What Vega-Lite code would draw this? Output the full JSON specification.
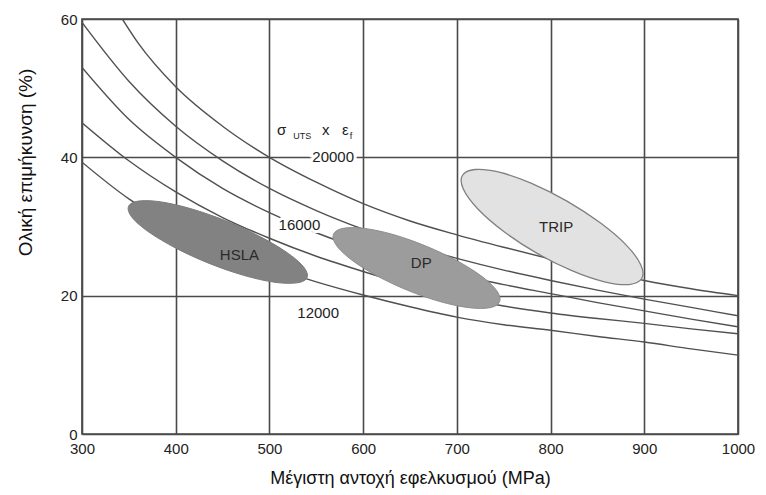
{
  "$schema": "https://vega.github.io/schema/vega-lite/v6.json",
  "width": 656,
  "height": 415,
  "autosize": {"type": "none"},
  "padding": {"left": 82, "top": 19, "right": 28, "bottom": 61},
  "background": "white",
  "config": {
    "view": {"stroke": "#4a4a4a", "strokeWidth": 1.7},
    "font": "Liberation Sans",
    "axis": {
      "grid": true, "gridColor": "#4a4a4a", "gridWidth": 1.6, "domain": false, "ticks": false,
      "labelFont": "Liberation Sans", "labelFontSize": 15, "labelColor": "#222",
      "titleFont": "Liberation Sans", "titleFontSize": 19, "titleFontWeight": "normal", "titleColor": "#111",
      "labelFlush": false, "labelOverlap": false, "labelBound": false
    }
  },
  "datasets": {
    "curves": [
      {"c": "B", "x": 343, "y": 60}, {"c": "B", "x": 360, "y": 56.5}, {"c": "B", "x": 400, "y": 50.2}, {"c": "B", "x": 450, "y": 44.5}, {"c": "B", "x": 500, "y": 40}, {"c": "B", "x": 550, "y": 36.4}, {"c": "B", "x": 600, "y": 33.3}, {"c": "B", "x": 650, "y": 30.8}, {"c": "B", "x": 700, "y": 28.8}, {"c": "B", "x": 750, "y": 27}, {"c": "B", "x": 800, "y": 25.3}, {"c": "B", "x": 850, "y": 23.7}, {"c": "B", "x": 900, "y": 22.2}, {"c": "B", "x": 950, "y": 21}, {"c": "B", "x": 1000, "y": 20},
      {"c": "A", "x": 300, "y": 59.5}, {"c": "A", "x": 350, "y": 51}, {"c": "A", "x": 400, "y": 44.5}, {"c": "A", "x": 450, "y": 39.5}, {"c": "A", "x": 500, "y": 35.5}, {"c": "A", "x": 550, "y": 32.3}, {"c": "A", "x": 600, "y": 29.6}, {"c": "A", "x": 650, "y": 27.3}, {"c": "A", "x": 700, "y": 25.4}, {"c": "A", "x": 750, "y": 23.7}, {"c": "A", "x": 800, "y": 22.2}, {"c": "A", "x": 850, "y": 20.8}, {"c": "A", "x": 900, "y": 19.5}, {"c": "A", "x": 950, "y": 18.3}, {"c": "A", "x": 1000, "y": 17.1},
      {"c": "C", "x": 300, "y": 53}, {"c": "C", "x": 350, "y": 45.5}, {"c": "C", "x": 400, "y": 40}, {"c": "C", "x": 450, "y": 35.5}, {"c": "C", "x": 500, "y": 32}, {"c": "C", "x": 550, "y": 29.1}, {"c": "C", "x": 600, "y": 26.7}, {"c": "C", "x": 650, "y": 24.7}, {"c": "C", "x": 700, "y": 23.1}, {"c": "C", "x": 750, "y": 21.6}, {"c": "C", "x": 800, "y": 20.3}, {"c": "C", "x": 850, "y": 19}, {"c": "C", "x": 900, "y": 17.8}, {"c": "C", "x": 950, "y": 16.6}, {"c": "C", "x": 1000, "y": 15.5},
      {"c": "D", "x": 300, "y": 45}, {"c": "D", "x": 350, "y": 39.5}, {"c": "D", "x": 400, "y": 35}, {"c": "D", "x": 450, "y": 31.3}, {"c": "D", "x": 500, "y": 28.3}, {"c": "D", "x": 550, "y": 25.7}, {"c": "D", "x": 600, "y": 23.5}, {"c": "D", "x": 650, "y": 21.5}, {"c": "D", "x": 700, "y": 19.8}, {"c": "D", "x": 750, "y": 18.5}, {"c": "D", "x": 800, "y": 17.5}, {"c": "D", "x": 850, "y": 16.7}, {"c": "D", "x": 900, "y": 16}, {"c": "D", "x": 950, "y": 15.2}, {"c": "D", "x": 1000, "y": 14.5},
      {"c": "E", "x": 300, "y": 39.3}, {"c": "E", "x": 350, "y": 34}, {"c": "E", "x": 400, "y": 30}, {"c": "E", "x": 450, "y": 26.8}, {"c": "E", "x": 500, "y": 24.2}, {"c": "E", "x": 550, "y": 22}, {"c": "E", "x": 600, "y": 20.1}, {"c": "E", "x": 650, "y": 18.4}, {"c": "E", "x": 700, "y": 16.9}, {"c": "E", "x": 750, "y": 15.8}, {"c": "E", "x": 800, "y": 15}, {"c": "E", "x": 850, "y": 14.1}, {"c": "E", "x": 900, "y": 13.3}, {"c": "E", "x": 950, "y": 12.3}, {"c": "E", "x": 1000, "y": 11.4}
    ],
    "regions": [
      {"r": "HSLA", "i": 0, "x": 540.2, "y": 22.64}, {"r": "HSLA", "i": 1, "x": 529.4, "y": 21.85}, {"r": "HSLA", "i": 2, "x": 505.1, "y": 21.95}, {"r": "HSLA", "i": 3, "x": 472.5, "y": 22.94}, {"r": "HSLA", "i": 4, "x": 435.8, "y": 24.66}, {"r": "HSLA", "i": 5, "x": 400.3, "y": 26.86}, {"r": "HSLA", "i": 6, "x": 371.4, "y": 29.19}, {"r": "HSLA", "i": 7, "x": 353.5, "y": 31.3}, {"r": "HSLA", "i": 8, "x": 349.6, "y": 32.88}, {"r": "HSLA", "i": 9, "x": 360.1, "y": 33.67}, {"r": "HSLA", "i": 10, "x": 383.6, "y": 33.57}, {"r": "HSLA", "i": 11, "x": 416.2, "y": 32.57}, {"r": "HSLA", "i": 12, "x": 452.9, "y": 30.85}, {"r": "HSLA", "i": 13, "x": 488.4, "y": 28.65}, {"r": "HSLA", "i": 14, "x": 517.7, "y": 26.33}, {"r": "HSLA", "i": 15, "x": 536.1, "y": 24.22},
      {"r": "DP", "i": 0, "x": 745.6, "y": 19.13}, {"r": "DP", "i": 1, "x": 735.2, "y": 18.26}, {"r": "DP", "i": 2, "x": 712.6, "y": 18.27}, {"r": "DP", "i": 3, "x": 681.7, "y": 19.16}, {"r": "DP", "i": 4, "x": 647.4, "y": 20.78}, {"r": "DP", "i": 5, "x": 614.5, "y": 22.89}, {"r": "DP", "i": 6, "x": 587.7, "y": 25.17}, {"r": "DP", "i": 7, "x": 571.5, "y": 27.27}, {"r": "DP", "i": 8, "x": 568.3, "y": 28.87}, {"r": "DP", "i": 9, "x": 578.8, "y": 29.74}, {"r": "DP", "i": 10, "x": 601.5, "y": 29.72}, {"r": "DP", "i": 11, "x": 632.0, "y": 28.84}, {"r": "DP", "i": 12, "x": 666.3, "y": 27.21}, {"r": "DP", "i": 13, "x": 699.3, "y": 25.11}, {"r": "DP", "i": 14, "x": 726.2, "y": 22.83}, {"r": "DP", "i": 15, "x": 742.5, "y": 20.73},
      {"r": "TRIP", "i": 0, "x": 897.3, "y": 22.48}, {"r": "TRIP", "i": 1, "x": 883.7, "y": 21.61}, {"r": "TRIP", "i": 2, "x": 857.5, "y": 22.0}, {"r": "TRIP", "i": 3, "x": 822.7, "y": 23.61}, {"r": "TRIP", "i": 4, "x": 784.8, "y": 26.18}, {"r": "TRIP", "i": 5, "x": 749.7, "y": 29.32}, {"r": "TRIP", "i": 6, "x": 722.4, "y": 32.54}, {"r": "TRIP", "i": 7, "x": 707.0, "y": 35.38}, {"r": "TRIP", "i": 8, "x": 705.9, "y": 37.37}, {"r": "TRIP", "i": 9, "x": 719.4, "y": 38.24}, {"r": "TRIP", "i": 10, "x": 745.3, "y": 37.85}, {"r": "TRIP", "i": 11, "x": 779.7, "y": 36.24}, {"r": "TRIP", "i": 12, "x": 817.5, "y": 33.67}, {"r": "TRIP", "i": 13, "x": 853.0, "y": 30.53}, {"r": "TRIP", "i": 14, "x": 880.8, "y": 27.31}, {"r": "TRIP", "i": 15, "x": 896.2, "y": 24.48}
    ],
    "values": [
      {"t": "20000", "x": 568, "y": 40},
      {"t": "16000", "x": 532, "y": 30.2},
      {"t": "12000", "x": 552, "y": 17.5}
    ],
    "names": [
      {"t": "HSLA", "x": 468, "y": 25.9},
      {"t": "DP", "x": 662, "y": 24.7},
      {"t": "TRIP", "x": 806, "y": 29.9}
    ],
    "symMain": [
      {"t": "σ", "x": 513, "y": 43.9},
      {"t": "x", "x": 560, "y": 43.9},
      {"t": "ε", "x": 581, "y": 43.9}
    ],
    "symSub": [
      {"t": "UTS", "x": 535, "y": 43.1},
      {"t": "f", "x": 587, "y": 43.1}
    ]
  },
  "encoding": {
    "x": {"field": "x", "type": "quantitative", "scale": {"domain": [300, 1000], "nice": false},
      "axis": {"values": [300, 400, 500, 600, 700, 800, 900, 1000], "format": "d", "labelPadding": 7, "title": "Μέγιστη αντοχή εφελκυσμού (MPa)", "titlePadding": 13, "titleFontSize": 18}},
    "y": {"field": "y", "type": "quantitative", "scale": {"domain": [0, 60], "nice": false},
      "axis": {"values": [0, 20, 40, 60], "labelPadding": 5, "title": "Ολική επιμήκυνση (%)", "titlePadding": 25, "titleY": 143}}
  },
  "layer": [
    {"data": {"name": "curves"}, "mark": {"type": "line", "stroke": "#505050", "strokeWidth": 1.4, "interpolate": "monotone", "clip": true},
      "encoding": {"detail": {"field": "c"}}},
    {"data": {"name": "regions"}, "transform": [{"filter": "datum.r === 'HSLA'"}],
      "mark": {"type": "line", "interpolate": "cardinal-closed", "fill": "#828282", "stroke": "#7a7a7a", "strokeWidth": 1},
      "encoding": {"order": {"field": "i"}}},
    {"data": {"name": "regions"}, "transform": [{"filter": "datum.r === 'DP'"}],
      "mark": {"type": "line", "interpolate": "cardinal-closed", "fill": "#9c9c9c", "stroke": "#8e8e8e", "strokeWidth": 1},
      "encoding": {"order": {"field": "i"}}},
    {"data": {"name": "regions"}, "transform": [{"filter": "datum.r === 'TRIP'"}],
      "mark": {"type": "line", "interpolate": "cardinal-closed", "fill": "#e2e2e2", "stroke": "#808080", "strokeWidth": 1.3},
      "encoding": {"order": {"field": "i"}}},
    {"data": {"name": "values"}, "mark": {"type": "text", "fontSize": 15, "fill": "white", "stroke": "white", "strokeWidth": 6},
      "encoding": {"text": {"field": "t"}}},
    {"data": {"name": "values"}, "mark": {"type": "text", "fontSize": 15, "fill": "#222"},
      "encoding": {"text": {"field": "t"}}},
    {"data": {"name": "names"}, "mark": {"type": "text", "fontSize": 15, "fill": "#2a2a2a"},
      "encoding": {"text": {"field": "t"}}},
    {"data": {"name": "symMain"}, "mark": {"type": "text", "fontSize": 15, "fill": "#222"},
      "encoding": {"text": {"field": "t"}}},
    {"data": {"name": "symSub"}, "mark": {"type": "text", "fontSize": 9, "fill": "#222"},
      "encoding": {"text": {"field": "t"}}}
  ]
}
